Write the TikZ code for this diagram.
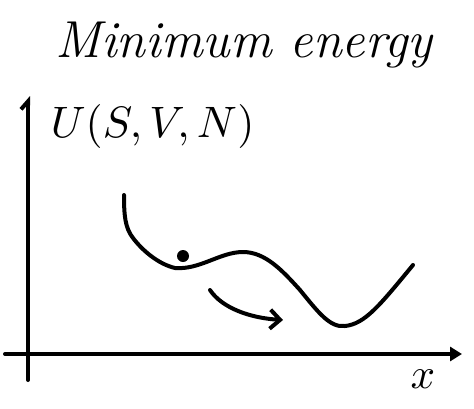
\documentclass[tikz,border=0pt]{standalone}
\usetikzlibrary{arrows.meta}
\begin{document}
\begin{tikzpicture}[x=1pt,y=-1pt,
  stroke/.style={line width=4pt, line cap=round, line join=round},
  lbl/.style={inner sep=0pt}]
\useasboundingbox (0,0) rectangle (474,408);
% title
\node[lbl, font=\fontsize{52}{52}\selectfont\itshape] (title) at (244,45) {Minimum energy};
% axes
\coordinate (yb) at (28,380);
\coordinate (yt) at (28,96);
\coordinate (xl) at (5,354);
\coordinate (xr) at (462,354);
\draw[stroke, -{Straight Barb[left, length=8pt, width=14pt]}] (yb) -- (yt);
\draw[stroke, -{Triangle[length=12pt, width=14pt]}] (xl) -- (xr);
% labels
\node[lbl, anchor=west, scale=4.4] (ylabel) at (50,126) {$U(S,V,N)$};
\node[lbl, scale=4.3] (xlabel) at (423,379) {$x$};
% curve
\draw[stroke] (124,195) .. controls (124,215) and (125,228) .. (133,238)
  .. controls (142,250) and (158,264) .. (175,268)
  .. controls (200,270) and (220,252) .. (243,252)
  .. controls (265,252) and (282,270) .. (300,290)
  .. controls (318,312) and (330,328) .. (345,326)
  .. controls (365,324) and (380,305) .. (413,265);
% ball
\node[circle, fill=black, minimum size=12pt, inner sep=0pt] (ball) at (183,256) {};
% motion arrow
\coordinate (as) at (210,290);
\coordinate (ae) at (283,320);
\draw[stroke, -{Straight Barb[length=10pt, width=19pt, line width=4pt]}] (as) .. controls (222,308) and (250,318) .. (ae);
\end{tikzpicture}
\end{document}
